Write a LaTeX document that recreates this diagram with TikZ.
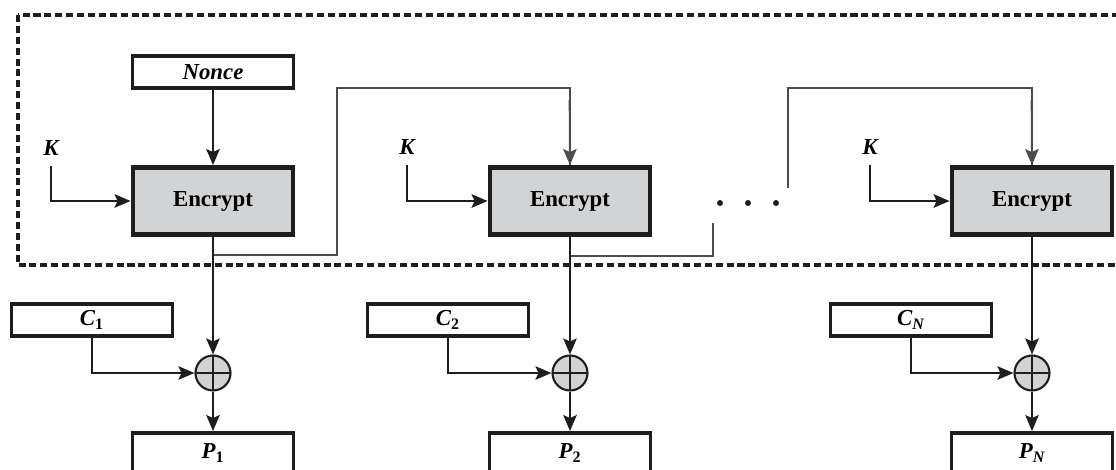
\documentclass[tikz,border=0pt]{standalone}
\usepackage{fontspec}
\setmainfont{Liberation Serif}
\usepackage{tikz}
\usetikzlibrary{arrows.meta}
\definecolor{cink}{HTML}{1E1E1E}
\definecolor{cgray}{HTML}{D2D3D5}
\definecolor{cfeed}{HTML}{4C4C4C}
\newcommand{\dgfont}{\fontsize{13}{15}\selectfont}
\tikzset{>={Stealth[length=3.2mm,width=2.7mm,inset=0.6mm]},
  bx/.style={draw=cink,line width=2.2pt,fill=white,minimum width=3.22cm,minimum height=0.64cm,inner sep=0pt,font=\dgfont\bfseries\itshape},
  encbx/.style={draw=cink,line width=2.8pt,fill=cgray,minimum width=3.2cm,minimum height=1.34cm,inner sep=0pt,font=\dgfont\bfseries},
  xorop/.style={circle,draw=cink,line width=1.2pt,fill=cgray,minimum size=0.7cm,inner sep=0pt,
    path picture={\draw[cink,line width=1pt] (path picture bounding box.north) -- (path picture bounding box.south)
      (path picture bounding box.west) -- (path picture bounding box.east);}},
  lbl/.style={font=\dgfont\bfseries\itshape,inner sep=0pt},
  arr/.style={->,draw=cink,line width=1.05pt},
  fb/.style={draw=cfeed,line width=1.05pt}}

\begin{document}
\begin{tikzpicture}[x=0.02cm,y=-0.02cm]
\useasboundingbox (0,0) rectangle (1116,470);

% ================= dashed frame =================
\draw[cink,line width=2.3pt,dash pattern=on 4pt off 2.2pt] (18,15) rectangle (1130,265);

% ================= top row: counter & encryptions =================
\node[bx] (nonce) at (213,72) {Nonce};
\node[encbx] (enc1) at (213,201) {Encrypt};
\node[encbx] (enc2) at (570,201) {Encrypt};
\node[encbx] (encN) at (1032,201) {Encrypt};
\node[lbl] (k1) at (51,148) {K};
\node[lbl] (k2) at (407,147) {K};
\node[lbl] (kN) at (870,147) {K};
\draw[arr] (nonce) -- (enc1);
\draw[arr] (k1.south) ++(0,10) |- (enc1.west);
\draw[arr] (k2.south) ++(0,10) |- (enc2.west);
\draw[arr] (kN.south) ++(0,10) |- (encN.west);
\foreach \dx in {720,748,776} \fill[cink] (\dx,203) circle (3);

% feedback (counter carried along)
\coordinate (tap1) at (213,255);
\coordinate (tap2) at (570,256);
\coordinate (endA) at (713,223);
\coordinate (begN) at (788,188);
\draw[fb] (tap1) -- (337,255) -- (337,88) -| (enc2.north);
\draw[fb,->] (569.6,100) -- (enc2.north);
\draw[fb] (tap2) -| (endA);
\draw[fb] (begN) |- (1032,88) -- (encN.north);
\draw[fb,->] (1031.6,100) -- (encN.north);

% ================= bottom row: ciphertext, xor, plaintext =================
\node[bx] (c1) at (92,320) {C\textsubscript{\upshape 1}};
\node[bx] (c2) at (448,320) {C\textsubscript{\upshape 2}};
\node[bx] (cN) at (911,320) {C\textsubscript{N}};
\node[xorop] (x1) at (213,373) {};
\node[xorop] (x2) at (570,373) {};
\node[xorop] (xN) at (1032,373) {};
\node[bx,minimum height=0.8cm] (p1) at (213,453) {P\textsubscript{\upshape 1}};
\node[bx,minimum height=0.8cm] (p2) at (570,453) {P\textsubscript{\upshape 2}};
\node[bx,minimum height=0.8cm] (pN) at (1032,453) {P\textsubscript{N}};
\draw[arr] (enc1) -- (x1);
\draw[arr] (enc2) -- (x2);
\draw[arr] (encN) -- (xN);
\draw[arr] (c1.south) |- (x1.west);
\draw[arr] (c2.south) |- (x2.west);
\draw[arr] (cN.south) |- (xN.west);
\draw[arr] (x1) -- (p1);
\draw[arr] (x2) -- (p2);
\draw[arr] (xN) -- (pN);

\end{tikzpicture}
\end{document}
